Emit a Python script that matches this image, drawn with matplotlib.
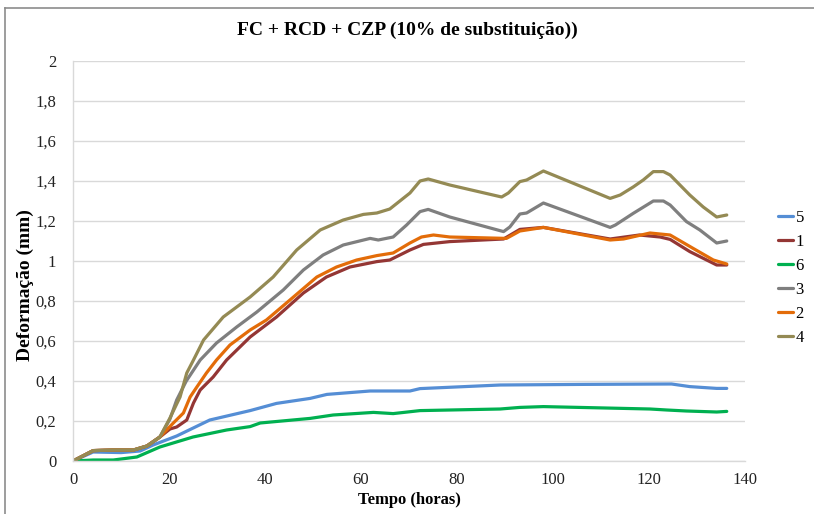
import matplotlib
matplotlib.use("Agg")
import matplotlib.pyplot as plt
from matplotlib.lines import Line2D

plt.rcParams['font.family'] = ['Liberation Serif', 'DejaVu Serif']

# Series "5"
t5 = [0, 4.2, 10, 14, 16.7, 21.6, 28.5, 36.9, 42.4, 49.4, 52.9, 61.9, 70.2, 72.3,
      89, 106.3, 124.7, 128.5, 134.1, 136.2]
d5 = [0, 0.045, 0.042, 0.05, 0.08, 0.125, 0.205, 0.252, 0.288, 0.313, 0.333, 0.35, 0.35, 0.362,
      0.38, 0.383, 0.385, 0.372, 0.363, 0.363]

# Series "1"
t1 = [0, 4.2, 8.4, 12.6, 15.4, 18.1, 20.2, 21.6, 23.7, 25.1, 26.5, 29.2, 32, 36.9, 42.4, 48,
      52.8, 57.7, 63.3, 66, 70.2, 73, 78.5, 89.7, 93.1, 98, 111.9, 118, 122.3, 124.4, 128.5,
      134.1, 136.2]
d1 = [0, 0.052, 0.055, 0.055, 0.075, 0.12, 0.16, 0.17, 0.205, 0.29, 0.355, 0.42, 0.505, 0.62,
      0.72, 0.84, 0.92, 0.97, 0.997, 1.005, 1.055, 1.083, 1.097, 1.11, 1.158, 1.168, 1.11, 1.13,
      1.12, 1.108, 1.047, 0.98, 0.98]

# Series "6"
t6 = [0, 4.2, 8.4, 13.3, 18.1, 25, 32, 36.9, 39, 49.4, 54.2, 62.6, 66.7, 72.3, 89, 93.1, 98,
      120.2, 123.7, 127.8, 134.1, 136.2]
d6 = [0, 0.005, 0.005, 0.02, 0.07, 0.12, 0.155, 0.172, 0.19, 0.213, 0.23, 0.243, 0.237, 0.252,
      0.26, 0.268, 0.272, 0.26, 0.255, 0.25, 0.245, 0.248]

# Series "3"
t3 = [0, 4.2, 8.4, 12.6, 15.4, 18.1, 20.2, 21.6, 23.6, 26.5, 29.9, 34.1, 38.3, 43.8, 48, 52.1,
      56.3, 61.9, 63.6, 66.7, 69.5, 72.3, 74, 78.5, 89.7, 91, 93.1, 94.5, 98, 111.9, 113, 116.7,
      120.9, 123, 124.4, 127.8, 130.6, 134.1, 136.2]
d3 = [0, 0.052, 0.055, 0.055, 0.075, 0.12, 0.21, 0.305, 0.40, 0.505, 0.59, 0.67, 0.745, 0.855,
      0.955, 1.03, 1.08, 1.113, 1.105, 1.12, 1.18, 1.247, 1.258, 1.22, 1.147, 1.17, 1.235, 1.24,
      1.29, 1.168, 1.18, 1.238, 1.30, 1.30, 1.28, 1.197, 1.155, 1.09, 1.10]

# Series "2"
t2 = [0, 4.2, 8.4, 12.6, 15.4, 18.1, 20.9, 23, 24.4, 25.8, 27.8, 29.9, 32.7, 36.9, 40.3, 45.2,
      50.8, 54.9, 59.1, 63.3, 66.7, 70.2, 72.6, 75.1, 78.5, 90.3, 93.1, 98, 111.9, 114.7, 120.2,
      124.4, 129.2, 133.4, 136.2]
d2 = [0, 0.052, 0.055, 0.055, 0.075, 0.12, 0.19, 0.24, 0.32, 0.37, 0.44, 0.505, 0.58, 0.655,
      0.705, 0.805, 0.92, 0.97, 1.005, 1.027, 1.04, 1.09, 1.12, 1.13, 1.12, 1.113, 1.15, 1.168,
      1.105, 1.11, 1.14, 1.13, 1.063, 1.005, 0.985]

# Series "4"
t4 = [0, 4.2, 8.4, 12.6, 15.4, 18.1, 20.2, 22.3, 23.7, 25.1, 27.2, 31.3, 36.9, 41.7, 46.6,
      51.5, 56.3, 60.5, 63.3, 66, 70.2, 72.3, 74, 78.5, 89.3, 90.7, 93.1, 94.5, 98, 111.9, 114,
      116.7, 118.8, 120.9, 123, 124.4, 128.5, 131.3, 134.1, 136.2]
d4 = [0, 0.052, 0.055, 0.055, 0.075, 0.12, 0.215, 0.32, 0.44, 0.505, 0.605, 0.72, 0.82, 0.92,
      1.055, 1.155, 1.205, 1.233, 1.24, 1.26, 1.34, 1.40, 1.41, 1.38, 1.32, 1.34, 1.397, 1.405,
      1.45, 1.313, 1.33, 1.37, 1.405, 1.447, 1.447, 1.43, 1.33, 1.27, 1.22, 1.23]

series = [
    ("5", t5, d5, "#558ED5"),
    ("1", t1, d1, "#943634"),
    ("6", t6, d6, "#00B050"),
    ("3", t3, d3, "#7F7F7F"),
    ("2", t2, d2, "#E36C09"),
    ("4", t4, d4, "#948A54"),
]

yticks = [0, 0.2, 0.4, 0.6, 0.8, 1.0, 1.2, 1.4, 1.6, 1.8, 2.0]
ytick_labels = ["0", "0,2", "0,4", "0,6", "0,8", "1", "1,2", "1,4", "1,6", "1,8", "2"]
xticks = [0, 20, 40, 60, 80, 100, 120, 140]

fig = plt.figure(figsize=(8.14, 5.14), dpi=100)
ax = fig.add_axes([73 / 814, 53 / 514, 672 / 814, 400 / 514])

for name, t, d, c in series:
    ax.plot(t, d, color=c, linewidth=2.3, label=name, solid_capstyle="round")

ax.set_xlim(0, 140)
ax.set_ylim(0, 2)
ax.set_yticks(yticks)
ax.set_yticklabels(ytick_labels)
ax.set_xticks(xticks)
ax.grid(axis="y", color="#D9D9D9", linewidth=1)
ax.set_axisbelow(True)
for s in ("top", "right"):
    ax.spines[s].set_visible(False)
for s in ("left", "bottom"):
    ax.spines[s].set_color("#D9D9D9")
    ax.spines[s].set_linewidth(1)
ax.tick_params(axis="both", length=0, labelsize=12, colors="#222222")
ax.tick_params(axis="y", pad=12)
ax.tick_params(axis="x", pad=8)

ax.set_xlabel("Tempo (horas)", fontsize=12, fontweight="bold", labelpad=3)
fig.text(25 / 814, 1 - 285 / 514, "Deformação (mm)", rotation=90, ha="center", va="center",
         fontsize=14, fontweight="bold")
fig.text(0.5, 1 - 30 / 514, "FC + RCD + CZP (10% de substituição))", ha="center", va="center",
         fontsize=14, fontweight="bold")

handles, labels = ax.get_legend_handles_labels()
fig.legend(handles, labels, loc="center left", bbox_to_anchor=(778 / 814, 1 - 278 / 514),
           borderaxespad=0, borderpad=0, frameon=False, fontsize=12, handlelength=0.9,
           handletextpad=0.15, labelspacing=0.48)

# Outer chart border
fig.add_artist(Line2D([5 / 814, 5 / 814], [0, 1 - 8 / 514], transform=fig.transFigure,
                      color="#8C8C8C", linewidth=1.2))
fig.add_artist(Line2D([5 / 814, 1], [1 - 8 / 514, 1 - 8 / 514], transform=fig.transFigure,
                      color="#8C8C8C", linewidth=1.2))

fig.savefig("out.png", dpi=100)
